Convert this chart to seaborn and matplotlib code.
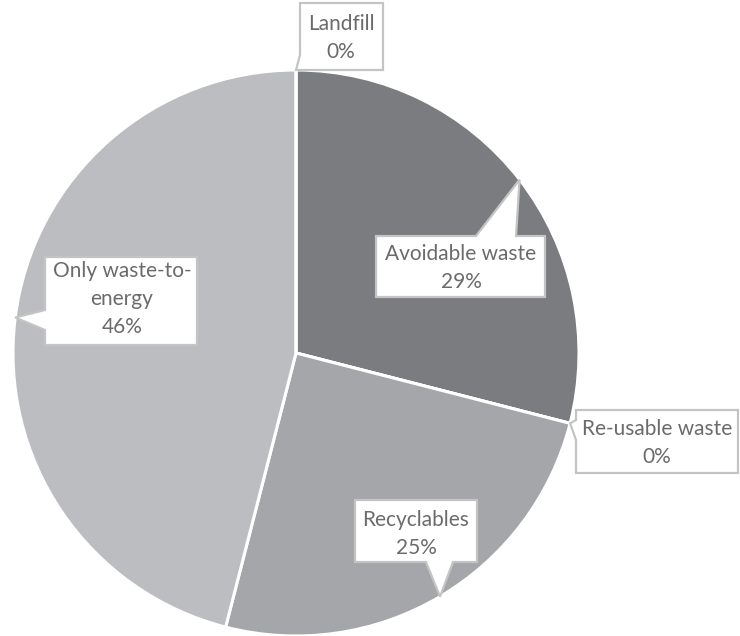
import numpy as np
import matplotlib
matplotlib.use("Agg")
import matplotlib.pyplot as plt
from matplotlib.patches import Polygon
import seaborn as sns

categories = ["Avoidable waste", "Re-usable waste", "Recyclables", "Only waste-to-\nenergy", "Landfill"]
values = [29, 0, 25, 46, 0]
slice_colors = ["#7b7c80", "#a9aaad", "#a5a6a9", "#bcbdc1", "#c8c9cc"]

sns.set_theme(style="white")
plt.rcParams['font.family'] = ['Lato', 'DejaVu Sans']

W, H = 740, 636
fig = plt.figure(figsize=(W / 100, H / 100), dpi=100)
ax = fig.add_axes([0, 0, 1, 1])

CX, CY, R = 296, 353, 283  # pie centre / radius in pixels (layout)


def px(x, y):
    return (x - CX) / R, (CY - y) / R


ax.pie(values, startangle=90, counterclock=False, colors=slice_colors, radius=1,
       center=(0, 0), wedgeprops=dict(edgecolor="white", linewidth=2.2))

ax.set_xlim(px(0, 0)[0], px(W, 0)[0])
ax.set_ylim(px(0, H)[1], px(0, 0)[1])
ax.set_aspect("equal")
ax.axis("off")

# tip positions derived from data (mid-angle of each wedge on the rim)
total = float(sum(values))
cum = np.cumsum([0] + values[:-1])
mid = 90 - 360 * (cum + np.array(values) / 2) / total
tips = [(np.cos(np.radians(a)), np.sin(np.radians(a))) for a in mid]

# layout of callout boxes (pixels): box x0,x1,y0,y1 ; pointer side ; base range ; text centre
layout = [
    dict(box=(376, 545, 236, 297), side="top", base=(476, 516), text=(461, 268)),
    dict(box=(576, 738, 410, 473), side="left", base=(420, 440), text=(657, 443)),
    dict(box=(355, 477, 500, 562), side="bottom", base=(426, 453), text=(416, 534)),
    dict(box=(45, 197, 257, 345), side="left", base=(310, 330), text=(122, 299)),
    dict(box=(300, 383, 3, 70), side="left", base=(55, 70), text=(341, 38)),
]

text_color = "#6b6b6b"
border = "#c4c4c4"

for cat, v, tip, lay in zip(categories, values, tips, layout):
    x0, x1, y0, y1 = lay["box"]
    b0, b1 = lay["base"]
    tpx = (CX + tip[0] * R, CY - tip[1] * R)
    if lay["side"] == "top":
        pts = [(x0, y0), (b0, y0), tpx, (b1, y0), (x1, y0), (x1, y1), (x0, y1)]
    elif lay["side"] == "bottom":
        pts = [(x0, y0), (x1, y0), (x1, y1), (b1, y1), tpx, (b0, y1), (x0, y1)]
    else:  # left
        pts = [(x0, y0), (x1, y0), (x1, y1), (x0, y1), (x0, b1), tpx, (x0, b0)]
    poly = Polygon([px(*p) for p in pts], closed=True, facecolor="white",
                   edgecolor=border, linewidth=1.6, joinstyle="miter", zorder=5)
    ax.add_patch(poly)
    tx, ty = px(*lay["text"])
    ax.text(tx, ty, f"{cat}\n{v}%", ha="center", va="center", fontsize=15,
            color=text_color, linespacing=1.5, zorder=6)

fig.savefig("out.png", dpi=100, facecolor="white")
